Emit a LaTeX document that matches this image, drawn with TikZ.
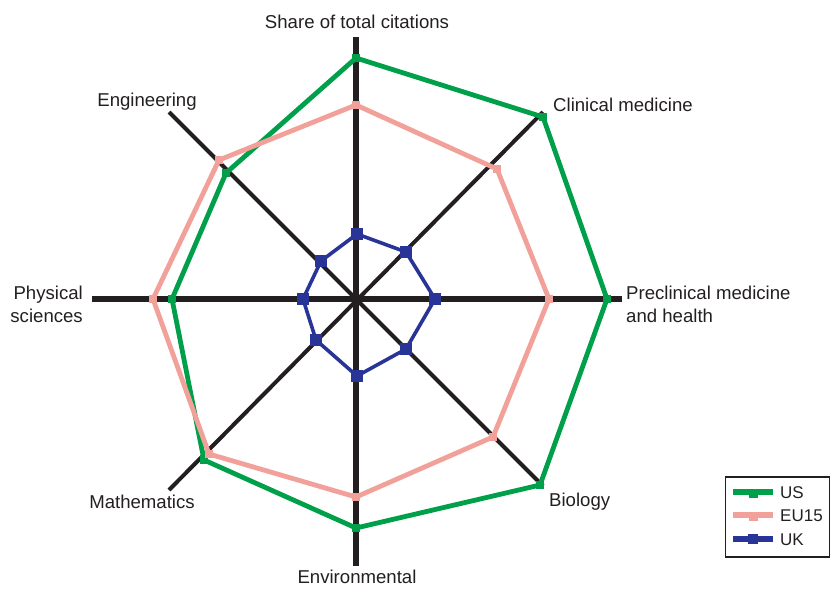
\documentclass[tikz,border=0pt]{standalone}
\usepackage{fontspec}
\setmainfont{Liberation Sans}
\usetikzlibrary{calc}
\definecolor{usgreen}{RGB}{0,160,75}
\definecolor{eupink}{RGB}{242,160,154}
\definecolor{ukblue}{RGB}{40,52,150}
\definecolor{axisblack}{RGB}{35,31,32}
\begin{document}
\begin{tikzpicture}[x=1pt,y=-1pt,
  lbl/.style={inner sep=0pt,text=axisblack,font=\fontsize{18.6}{23}\selectfont},
  leglbl/.style={inner sep=0pt,text=axisblack,font=\fontsize{17}{20}\selectfont},
  mainaxis/.style={draw=axisblack,line width=6pt},
  diagaxis/.style={draw=axisblack,line width=4pt},
  usline/.style={draw=usgreen,line width=4.8pt,line join=round},
  euline/.style={draw=eupink,line width=4.8pt,line join=round},
  ukline/.style={draw=ukblue,line width=3.6pt,line join=round},
  usmark/.style={fill=usgreen,minimum size=8.5pt,inner sep=0pt,draw=none,rectangle},
  eumark/.style={fill=eupink,minimum size=8.5pt,inner sep=0pt,draw=none,rectangle},
  ukmark/.style={fill=ukblue,minimum size=12pt,inner sep=0pt,draw=none,rectangle}]
\useasboundingbox (0,0) rectangle (833,590);
% axes
\coordinate (c) at (356,299);
\coordinate (aT) at (356,37);
\coordinate (aB) at (356,566);
\coordinate (aL) at (92,299);
\coordinate (aR) at (622,299);
\coordinate (aE) at (169,112);
\coordinate (aC) at (543,112);
\coordinate (aBi) at (543,486);
\coordinate (aM) at (169,490);
\draw[diagaxis] (aE) -- (aBi);
\draw[diagaxis] (aC) -- (aM);
\draw[mainaxis] (aL) -- (aR);
\draw[mainaxis] (aT) -- (aB);
% US
\coordinate (u1) at (356,58);
\coordinate (u2) at (543,117);
\coordinate (u3) at (607,299);
\coordinate (u4) at (540,485);
\coordinate (u5) at (356,528);
\coordinate (u6) at (204,460);
\coordinate (u7) at (172,299);
\coordinate (u8) at (226,173);
\draw[usline] (u1) -- (u2) -- (u3) -- (u4) -- (u5) -- (u6) -- (u7) -- (u8) -- cycle;
\foreach \p in {u1,u2,u3,u4,u5,u6,u7,u8} \node[usmark] at (\p) {};
% EU15
\coordinate (e1) at (356,105);
\coordinate (e2) at (497,169);
\coordinate (e3) at (549,299);
\coordinate (e4) at (493,437);
\coordinate (e5) at (356,497);
\coordinate (e6) at (209,454);
\coordinate (e7) at (153,299);
\coordinate (e8) at (219,160);
\draw[euline] (e1) -- (e2) -- (e3) -- (e4) -- (e5) -- (e6) -- (e7) -- (e8) -- cycle;
\foreach \p in {e1,e2,e3,e4,e5,e6,e7,e8} \node[eumark] at (\p) {};
% UK
\coordinate (k1) at (357,234);
\coordinate (k2) at (406,252);
\coordinate (k3) at (435,299);
\coordinate (k4) at (406,349);
\coordinate (k5) at (357,376);
\coordinate (k6) at (316,340);
\coordinate (k7) at (303,299);
\coordinate (k8) at (321,261);
\draw[ukline] (k1) -- (k2) -- (k3) -- (k4) -- (k5) -- (k6) -- (k7) -- (k8) -- cycle;
\foreach \p in {k1,k2,k3,k4,k5,k6,k7,k8} \node[ukmark] at (\p) {};
% labels
\node[lbl] (lT) at (357,22) {Share of total citations};
\node[lbl] (lE) at (147,102) {Engineering};
\node[lbl,anchor=west] (lC) at (553,105) {Clinical medicine};
\node[lbl,anchor=west,align=left] (lP) at (626,304) {Preclinical medicine\\and health};
\node[lbl,anchor=east,align=right] (lPh) at (83,304) {Physical\\sciences};
\node[lbl] (lM) at (142,502) {Mathematics};
\node[lbl,anchor=west] (lB) at (549,502) {Biology};
\node[lbl] (lEn) at (357,577) {Environmental};
% legend
\node[draw=axisblack,line width=1.2pt,minimum width=104pt,minimum height=80pt,inner sep=0pt] (leg) at (777.5,517) {};
\coordinate (g1a) at (733,492); \coordinate (g1b) at (773,492);
\coordinate (g2a) at (733,515); \coordinate (g2b) at (773,515);
\coordinate (g3a) at (733,539); \coordinate (g3b) at (773,539);
\draw[usgreen,line width=6.5pt] (g1a) -- (g1b);
\node[fill=usgreen,minimum width=9pt,minimum height=9pt,inner sep=0pt] at ($(g1a)!0.5!(g1b)+(0,1.5)$) {};
\draw[eupink,line width=6.5pt] (g2a) -- (g2b);
\node[fill=eupink,minimum width=9pt,minimum height=9pt,inner sep=0pt] at ($(g2a)!0.5!(g2b)+(0,1.5)$) {};
\draw[ukblue,line width=6.5pt] (g3a) -- (g3b);
\node[fill=ukblue,minimum width=10pt,minimum height=10pt,inner sep=0pt] at ($(g3a)!0.5!(g3b)$) {};
\node[leglbl,anchor=west] (t1) at (780,493) {US};
\node[leglbl,anchor=west] (t2) at (780,516) {EU15};
\node[leglbl,anchor=west] (t3) at (780,540) {UK};
\end{tikzpicture}
\end{document}
